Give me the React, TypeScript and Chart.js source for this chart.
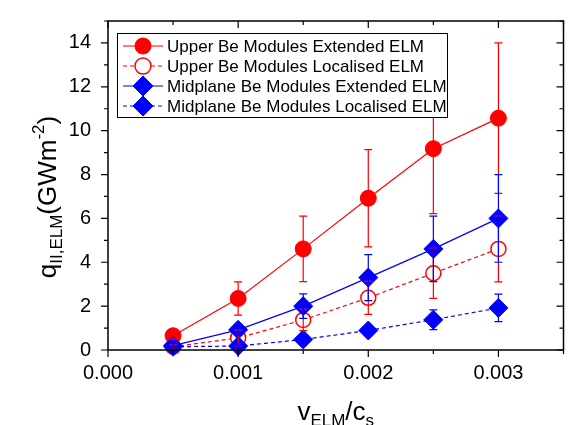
import React, { useEffect, useRef } from 'react';
import { Chart, registerables } from 'chart.js';

Chart.register(...registerables);

// ---------- data ----------
const xValues = [0.0005, 0.001, 0.0015, 0.002, 0.0025, 0.003];

const upperExtended = [0.65, 2.35, 4.61, 6.92, 9.18, 10.57];
const upperExtendedErr = [0.15, 0.76, 1.49, 2.22, 2.96, 3.43];

const upperLocalised = [0.15, 0.55, 1.37, 2.38, 3.5, 4.61];
const upperLocalisedErr = [0.08, 0.37, 0.49, 0.76, 1.15, 1.5];

const midExtended = [0.2, 0.92, 2.0, 3.3, 4.61, 6.0];
const midExtendedErr = [0.1, 0.25, 0.56, 1.05, 1.49, 2.0];

const midLocalised = [0.15, 0.18, 0.48, 0.89, 1.38, 1.92];
const midLocalisedErr = [0.05, 0.05, 0.12, 0.15, 0.45, 0.63];

const seriesLabels = [
  'Upper Be Modules Extended ELM',
  'Upper Be Modules Localised ELM',
  'Midplane Be Modules Extended ELM',
  'Midplane Be Modules Localised ELM',
];

const xTicks = [0, 0.0005, 0.001, 0.0015, 0.002, 0.0025, 0.003, 0.0035];
const xTickLabels = ['0.000', '', '0.001', '', '0.002', '', '0.003', ''];
const yTicks = [0, 1, 2, 3, 4, 5, 6, 7, 8, 9, 10, 11, 12, 13, 14, 15];
const yTickLabels = ['0', '', '2', '', '4', '', '6', '', '8', '', '10', '', '12', '', '14', ''];

const RED = '#ff0000';
const BLUE = '#0000ff';
const FONT = '"Liberation Sans", Arial, Helvetica, sans-serif';

type Part = { text: string; size: number; dy: number };

function drawRich(ctx: CanvasRenderingContext2D, parts: Part[], cx: number, y: number) {
  const widths = parts.map((p) => {
    ctx.font = `${p.size}px ${FONT}`;
    return ctx.measureText(p.text).width;
  });
  const total = widths.reduce((a, b) => a + b, 0);
  let x = cx - total / 2;
  parts.forEach((p, i) => {
    ctx.font = `${p.size}px ${FONT}`;
    ctx.fillText(p.text, x, y + p.dy);
    x += widths[i];
  });
}

const seriesStyles = [
  { color: RED, dash: [] as number[], marker: 'circle', filled: true, r: 8 },
  { color: RED, dash: [4, 3], marker: 'circle', filled: false, r: 7.5 },
  { color: BLUE, dash: [] as number[], marker: 'diamond', filled: true, r: 9.5 },
  { color: BLUE, dash: [4, 3], marker: 'diamond', filled: true, r: 9.5 },
];

function drawMarker(ctx: CanvasRenderingContext2D, style: any, x: number, y: number) {
  ctx.save();
  ctx.setLineDash([]);
  ctx.beginPath();
  if (style.marker === 'circle') {
    ctx.arc(x, y, style.r, 0, Math.PI * 2);
  } else {
    ctx.moveTo(x, y - style.r);
    ctx.lineTo(x + style.r, y);
    ctx.lineTo(x, y + style.r);
    ctx.lineTo(x - style.r, y);
    ctx.closePath();
  }
  ctx.fillStyle = style.filled ? style.color : '#ffffff';
  ctx.fill();
  ctx.strokeStyle = style.color;
  ctx.lineWidth = style.filled ? 1 : 1.5;
  ctx.stroke();
  ctx.restore();
}

const decorPlugin = {
  id: 'decor',
  afterDatasetsDraw(chart: any) {
    const { ctx, scales } = chart;
    const xs = scales.x;
    const ys = scales.y;
    const sets = [
      [upperExtended, upperExtendedErr],
      [upperLocalised, upperLocalisedErr],
      [midExtended, midExtendedErr],
      [midLocalised, midLocalisedErr],
    ];
    ctx.save();
    sets.forEach(([vals, errs], si) => {
      ctx.strokeStyle = seriesStyles[si].color;
      ctx.lineWidth = 1.2;
      ctx.setLineDash([]);
      vals.forEach((v: number, j: number) => {
        const px = xs.getPixelForValue(xValues[j]);
        const pt = ys.getPixelForValue(v + errs[j]);
        const pb = ys.getPixelForValue(v - errs[j]);
        ctx.beginPath();
        ctx.moveTo(px, pt);
        ctx.lineTo(px, pb);
        ctx.moveTo(px - 4, pt);
        ctx.lineTo(px + 4, pt);
        ctx.moveTo(px - 4, pb);
        ctx.lineTo(px + 4, pb);
        ctx.stroke();
      });
    });
    ctx.restore();
  },
  afterDraw(chart: any) {
    const { ctx, chartArea: a, scales } = chart;
    const xs = scales.x;
    const ys = scales.y;
    ctx.save();

    // legend
    const lx = a.left + 9;
    const ly = a.top + 12;
    const lw = 330;
    const lh = 84;
    ctx.fillStyle = '#ffffff';
    ctx.fillRect(lx, ly, lw, lh);
    ctx.strokeStyle = '#000';
    ctx.lineWidth = 1;
    ctx.strokeRect(lx + 0.5, ly + 0.5, lw, lh);
    seriesLabels.forEach((label, i) => {
      const st = seriesStyles[i];
      const cy = ly + 13 + i * 20;
      ctx.strokeStyle = st.color;
      ctx.lineWidth = 1.2;
      ctx.setLineDash(st.dash);
      ctx.beginPath();
      ctx.moveTo(lx + 6, cy);
      ctx.lineTo(lx + 46, cy);
      ctx.stroke();
      ctx.setLineDash([]);
      drawMarker(ctx, { ...st, r: st.marker === 'circle' ? 8 : 10 }, lx + 26, cy);
      ctx.fillStyle = '#000';
      ctx.font = `17px ${FONT}`;
      ctx.textBaseline = 'middle';
      ctx.textAlign = 'left';
      ctx.fillText(label, lx + 50, cy + 1);
    });

    // frame
    ctx.setLineDash([]);
    ctx.strokeStyle = '#000';
    ctx.lineWidth = 1.5;
    ctx.strokeRect(a.left, a.top, a.right - a.left, a.bottom - a.top);

    // ticks
    ctx.lineWidth = 1.2;
    ctx.beginPath();
    xTicks.forEach((v, i) => {
      const px = xs.getPixelForValue(v);
      const len = xTickLabels[i] ? 7 : 4;
      ctx.moveTo(px, a.bottom);
      ctx.lineTo(px, a.bottom + len);
      ctx.moveTo(px, a.top);
      ctx.lineTo(px, a.top + len);
    });
    yTicks.forEach((v, i) => {
      const py = ys.getPixelForValue(v);
      const len = yTickLabels[i] ? 7 : 4;
      ctx.moveTo(a.left, py);
      ctx.lineTo(a.left - len, py);
      ctx.moveTo(a.right, py);
      ctx.lineTo(a.right - len, py);
    });
    ctx.stroke();

    // axis titles
    ctx.fillStyle = '#000';
    ctx.textAlign = 'left';
    ctx.textBaseline = 'alphabetic';
    drawRich(
      ctx,
      [
        { text: 'v', size: 26, dy: 0 },
        { text: 'ELM', size: 17, dy: 6 },
        { text: '/c', size: 26, dy: 0 },
        { text: 's', size: 17, dy: 6 },
      ],
      (a.left + a.right) / 2,
      420
    );
    ctx.save();
    ctx.translate(56, 197);
    ctx.rotate(-Math.PI / 2);
    drawRich(
      ctx,
      [
        { text: 'q', size: 26, dy: 0 },
        { text: 'II,ELM', size: 17, dy: 6 },
        { text: '(GWm', size: 26, dy: 0 },
        { text: '-2', size: 17, dy: -12 },
        { text: ')', size: 26, dy: 0 },
      ],
      0,
      0
    );
    ctx.restore();

    ctx.restore();
  },
};

export default function App() {
  const canvasRef = useRef<HTMLCanvasElement | null>(null);

  useEffect(() => {
    document.body.style.margin = '0';
    const canvas = canvasRef.current;
    if (!canvas) return;
    const series = [upperExtended, upperLocalised, midExtended, midLocalised];
    const datasets = series.map((vals, i) => {
      const st = seriesStyles[i];
      return {
        label: seriesLabels[i],
        data: xValues.map((x, j) => ({ x, y: vals[j] })),
        borderColor: st.color,
        borderWidth: 1.2,
        borderDash: st.dash,
        backgroundColor: st.filled ? st.color : '#ffffff',
        pointStyle: st.marker === 'circle' ? 'circle' : 'rectRot',
        pointRadius: st.r,
        pointHoverRadius: st.r,
        pointBackgroundColor: st.filled ? st.color : '#ffffff',
        pointBorderColor: st.color,
        pointBorderWidth: st.filled ? 1 : 1.5,
        tension: 0,
        fill: false,
        order: 4 - i,
        clip: false as any,
      };
    });

    const chart = new Chart(canvas, {
      type: 'line',
      data: { datasets },
      options: {
        responsive: false,
        animation: false,
        devicePixelRatio: 1,
        layout: { padding: { top: 14, right: 3, left: 0, bottom: 0 } },
        plugins: {
          legend: { display: false },
          tooltip: { enabled: false },
          title: { display: false },
        },
        scales: {
          x: {
            type: 'linear',
            min: 0,
            max: 0.0035,
            afterBuildTicks: (s: any) => {
              s.ticks = xTicks.map((v) => ({ value: v }));
            },
            afterFit: (s: any) => {
              s.height = 75;
            },
            grid: { display: false },
            border: { display: false },
            ticks: {
              autoSkip: false,
              maxRotation: 0,
              color: '#000',
              padding: 3,
              font: { size: 20, family: FONT },
              callback: (_v: any, i: number) => xTickLabels[i],
            },
          },
          y: {
            type: 'linear',
            min: 0,
            max: 15,
            afterBuildTicks: (s: any) => {
              s.ticks = yTicks.map((v) => ({ value: v }));
            },
            afterFit: (s: any) => {
              s.width = 108;
            },
            grid: { display: false },
            border: { display: false },
            ticks: {
              autoSkip: false,
              color: '#000',
              padding: 9,
              font: { size: 20, family: FONT },
              callback: (_v: any, i: number) => yTickLabels[i],
            },
          },
        },
      },
      plugins: [decorPlugin],
    });
    return () => chart.destroy();
  }, []);

  return (
    <div style={{ width: 569, height: 425, overflow: 'hidden', position: 'relative', background: '#fff' }}>
      <canvas ref={canvasRef} width={574} height={425} style={{ display: 'block' }} />
    </div>
  );
}
